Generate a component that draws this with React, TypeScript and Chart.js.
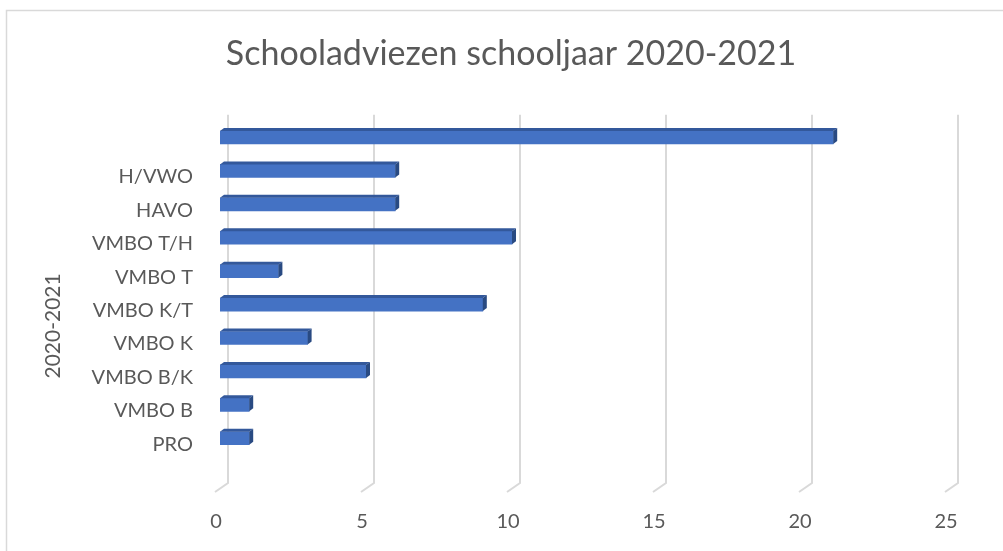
import React, { useEffect, useRef } from 'react';
import { Chart, registerables } from 'chart.js';

Chart.register(...registerables);

const categories = ['', 'H/VWO', 'HAVO', 'VMBO T/H', 'VMBO T', 'VMBO K/T', 'VMBO K', 'VMBO B/K', 'VMBO B', 'PRO'];
const values = [21, 6, 6, 10, 2, 9, 3, 5, 1, 1];
const xTickValues = [0, 5, 10, 15, 20, 25];
const chartTitle = 'Schooladviezen schooljaar 2020-2021';
const axisTitle = '2020-2021';

const FONT = 'Lato, "Open Sans", sans-serif';
const TEXT = '#595959';
const GRID = '#d9d9d9';

const framePlugin = {
  id: 'frame',
  beforeDraw(chart: any) {
    const ctx = chart.ctx;
    ctx.save();
    ctx.fillStyle = '#ffffff';
    ctx.fillRect(0, 0, chart.width, chart.height);
    ctx.strokeStyle = GRID;
    ctx.lineWidth = 1.5;
    ctx.strokeRect(6.5, 10.5, chart.width + 20, chart.height + 20);
    ctx.restore();
  },
};

const grid3dPlugin = {
  id: 'grid3d',
  beforeDatasetsDraw(chart: any) {
    const { ctx, chartArea, scales } = chart;
    const xs = scales.x;
    ctx.save();
    ctx.strokeStyle = GRID;
    ctx.lineWidth = 2;
    for (const v of xTickValues) {
      const px = xs.getPixelForValue(v);
      ctx.beginPath();
      ctx.moveTo(px + 8, chartArea.top - 6);
      ctx.lineTo(px + 8, chartArea.bottom + 28);
      ctx.lineTo(px - 5, chartArea.bottom + 37);
      ctx.stroke();
    }
    ctx.restore();
  },
};

const bar3dPlugin = {
  id: 'bar3d',
  afterDatasetsDraw(chart: any) {
    const { ctx } = chart;
    const meta = chart.getDatasetMeta(0);
    const dx = 4;
    const dy = 3;
    ctx.save();
    meta.data.forEach((bar: any) => {
      const { x, y, base, height } = bar.getProps(['x', 'y', 'base', 'height'], true);
      const top = y - height / 2;
      const bottom = y + height / 2;
      ctx.fillStyle = '#33589b';
      ctx.beginPath();
      ctx.moveTo(base, top);
      ctx.lineTo(base + dx, top - dy);
      ctx.lineTo(x + dx, top - dy);
      ctx.lineTo(x, top);
      ctx.closePath();
      ctx.fill();
      ctx.fillStyle = '#294a82';
      ctx.beginPath();
      ctx.moveTo(x, top);
      ctx.lineTo(x + dx, top - dy);
      ctx.lineTo(x + dx, bottom - dy);
      ctx.lineTo(x, bottom);
      ctx.closePath();
      ctx.fill();
    });
    ctx.restore();
  },
};

const yTitlePlugin = {
  id: 'yTitle',
  afterDraw(chart: any) {
    const { ctx, chartArea } = chart;
    ctx.save();
    ctx.translate(chartArea.left - 167, (chartArea.top + chartArea.bottom) / 2 + 38);
    ctx.rotate(-Math.PI / 2);
    ctx.fillStyle = TEXT;
    ctx.font = `21px ${FONT}`;
    ctx.textAlign = 'center';
    ctx.textBaseline = 'middle';
    ctx.fillText(axisTitle, 0, 0);
    ctx.restore();
  },
};

export default function App() {
  const ref = useRef<HTMLCanvasElement | null>(null);

  useEffect(() => {
    if (!ref.current) return;
    const chart = new Chart(ref.current, {
      type: 'bar',
      data: {
        labels: categories,
        datasets: [
          {
            data: values,
            backgroundColor: '#4472c4',
            borderWidth: 0,
            barThickness: 13,
          },
        ],
      },
      options: {
        indexAxis: 'y',
        animation: false,
        responsive: true,
        maintainAspectRatio: false,
        layout: { padding: { left: 72, right: 53, top: 0, bottom: 0 } },
        plugins: {
          legend: { display: false },
          tooltip: { enabled: false },
          title: {
            display: true,
            text: chartTitle,
            color: TEXT,
            font: { family: FONT, size: 34, weight: 'normal', lineHeight: 1.2 },
            padding: { top: 34, bottom: 46 },
          },
        },
        scales: {
          x: {
            type: 'linear',
            min: 0,
            max: 25,
            afterBuildTicks: (scale: any) => {
              scale.ticks = xTickValues.map((v) => ({ value: v }));
            },
            afterFit: (scale: any) => {
              scale.height = 96;
              scale.paddingLeft = 0;
              scale.paddingRight = 0;
            },
            grid: { display: false, drawTicks: false },
            border: { display: false },
            ticks: {
              color: TEXT,
              font: { family: FONT, size: 20, lineHeight: 1.2 },
              padding: 55,
              labelOffset: -4,
              maxRotation: 0,
            },
          },
          y: {
            type: 'category',
            afterFit: (scale: any) => {
              scale.width = 148;
            },
            grid: { display: false, drawTicks: false },
            border: { display: false },
            ticks: {
              color: TEXT,
              font: { family: FONT, size: 20, lineHeight: 1.2 },
              padding: 27,
              labelOffset: 6,
            },
          },
        },
      },
      plugins: [framePlugin, grid3dPlugin, bar3dPlugin, yTitlePlugin],
    });
    return () => chart.destroy();
  }, []);

  return (
    <div style={{ position: 'fixed', left: 0, top: 0, width: 1003, height: 551, background: '#fff' }}>
      <canvas ref={ref} />
    </div>
  );
}
